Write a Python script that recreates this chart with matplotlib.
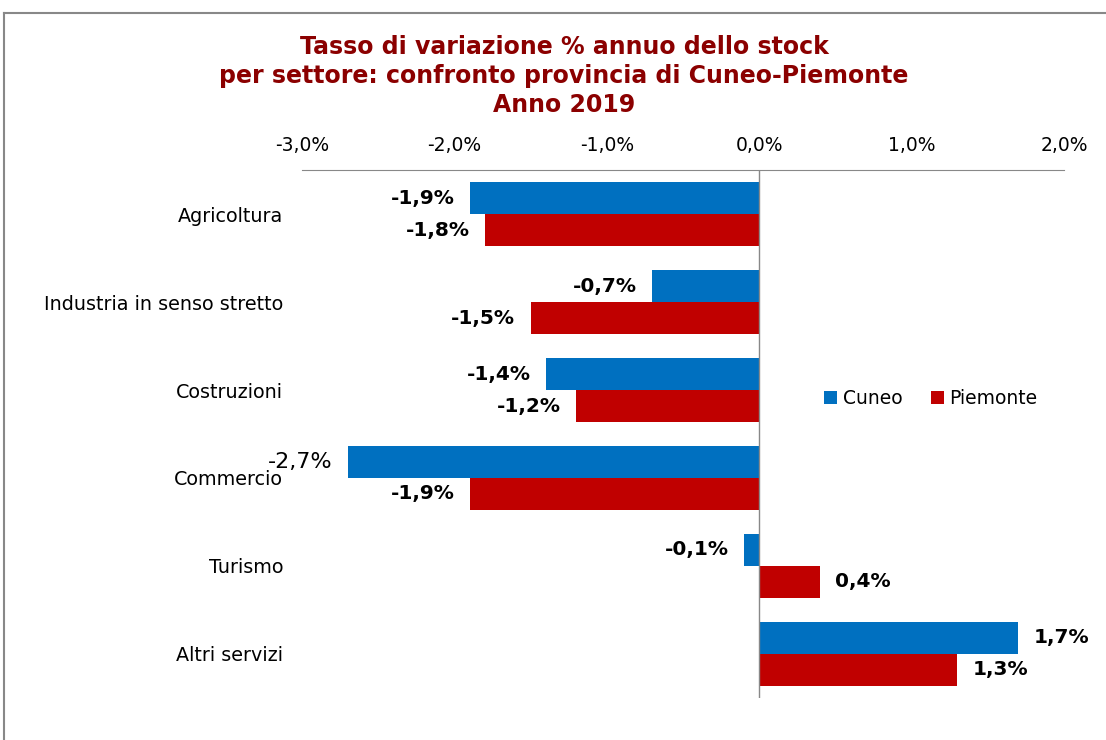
import matplotlib.pyplot as plt
from matplotlib.lines import Line2D
import numpy as np

settori = ["Agricoltura", "Industria in senso stretto", "Costruzioni",
           "Commercio", "Turismo", "Altri servizi"]
cuneo = [-1.9, -0.7, -1.4, -2.7, -0.1, 1.7]
piemonte = [-1.8, -1.5, -1.2, -1.9, 0.4, 1.3]
xticks = [-3, -2, -1, 0, 1, 2]

blu = "#0070C0"
rosso = "#C00000"

fig = plt.figure(figsize=(11.06, 7.40), dpi=100)
ax = fig.add_axes([0.273, 0.057, 0.689, 0.713])

y = np.arange(len(settori))
h = 0.364
ax.barh(y - h / 2, cuneo, height=h, color=blu, label="Cuneo")
ax.barh(y + h / 2, piemonte, height=h, color=rosso, label="Piemonte")

ax.set_xlim(-3, 2)
ax.set_ylim(len(settori) - 0.5, -0.5)
ax.set_yticks(y)
ax.set_yticklabels(settori, fontsize=13.8)
ax.set_xticks(xticks)
ax.set_xticklabels([f"{v:.1f}%".replace(".", ",") for v in xticks], fontsize=13.5)
ax.xaxis.tick_top()
ax.tick_params(length=0)
ax.tick_params(axis="x", pad=11)
ax.tick_params(axis="y", pad=13.5)
for s in ["bottom", "left", "right"]:
    ax.spines[s].set_visible(False)
ax.spines["top"].set_color("#888888")
ax.axvline(0, color="#888888", lw=1)

def etichetta(v, yy, bold=True, size=14.5):
    testo = f"{v:.1f}%".replace(".", ",")
    off = 11 if v >= 0 else -11
    ax.annotate(testo, (v, yy), xytext=(off, 0), textcoords="offset points",
                ha="left" if v >= 0 else "right", va="center",
                fontsize=size, fontweight="bold" if bold else "normal")

for i, v in enumerate(cuneo):
    if settori[i] == "Commercio":
        etichetta(v, y[i] - h / 2, bold=False, size=16)
    else:
        etichetta(v, y[i] - h / 2)
for i, v in enumerate(piemonte):
    etichetta(v, y[i] + h / 2)

ax.legend(loc="center left", bbox_to_anchor=(0.663, 0.568), ncol=2, frameon=False,
          fontsize=13.5, handlelength=0.7, handleheight=0.7, handletextpad=0.3,
          columnspacing=1.5)

fig.text(0.51, 0.897, "Tasso di variazione % annuo dello stock\n"
         "per settore: confronto provincia di Cuneo-Piemonte\nAnno 2019",
         ha="center", va="center", fontsize=17, fontweight="bold",
         color="#8B0000", linespacing=1.26)

fig.add_artist(Line2D([4 / 1106, 4 / 1106], [0, 1 - 13 / 740],
                      transform=fig.transFigure, color="#888888", lw=1.5))
fig.add_artist(Line2D([4 / 1106, 1], [1 - 13 / 740, 1 - 13 / 740],
                      transform=fig.transFigure, color="#888888", lw=1.5))

fig.savefig("out.png", dpi=100)
